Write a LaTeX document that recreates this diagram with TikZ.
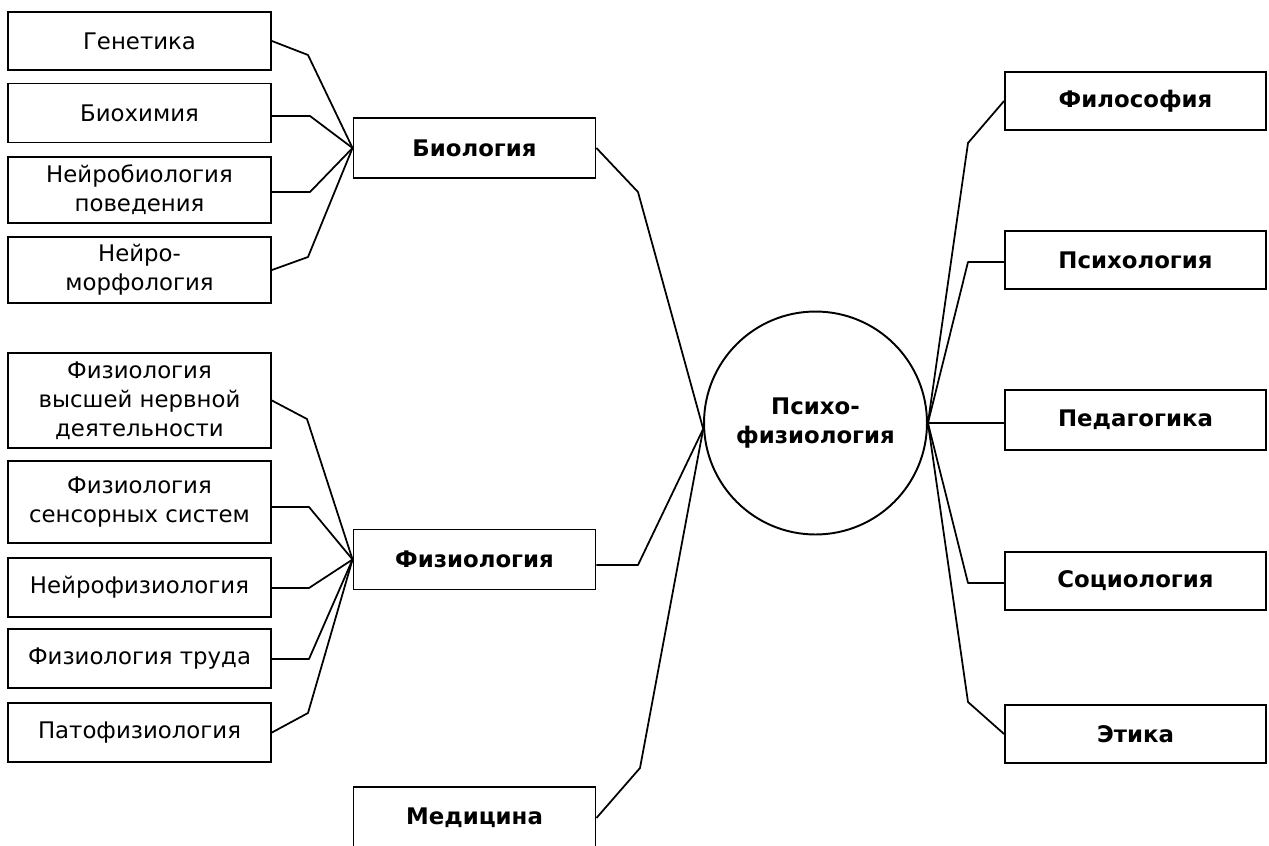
\documentclass[tikz,border=0pt]{standalone}
\usepackage{fontspec}
\setmainfont{DejaVu Sans}
\begin{document}
\begin{tikzpicture}[x=0.02cm,y=-0.02cm,
  box/.style={draw,line width=1.1pt,rectangle,inner sep=0pt,align=center,
    font=\fontsize{13}{16.5}\selectfont},
  lbox/.style={box,minimum width=5.26cm},
  mbox/.style={box,minimum width=4.84cm,font=\fontsize{13}{16.5}\selectfont\bfseries},
  rbox/.style={box,minimum width=5.22cm,font=\fontsize{13}{16.5}\selectfont\bfseries},
  hub/.style={draw,line width=1.1pt,circle,minimum size=4.46cm,inner sep=0pt,align=center,
    font=\fontsize{13}{16.5}\selectfont\bfseries},
  link/.style={draw,line width=1pt,line join=round}]
\useasboundingbox (0,0) rectangle (1269,846);

% left column, upper group
\node[lbox,minimum height=1.16cm] (gen) at (139.5,41) {Генетика};
\node[lbox,minimum height=1.18cm] (bio) at (139.5,113) {Биохимия};
\node[lbox,minimum height=1.32cm] (nbp) at (139.5,190) {Нейробиология\\поведения};
\node[lbox,minimum height=1.32cm] (nm) at (139.5,270) {Нейро-\\морфология};

% left column, lower group
\node[lbox,minimum height=1.90cm] (fvnd) at (139.5,400.5) {Физиология\\высшей нервной\\деятельности};
\node[lbox,minimum height=1.64cm] (fss) at (139.5,502) {Физиология\\сенсорных систем};
\node[lbox,minimum height=1.18cm] (nf) at (139.5,587.5) {Нейрофизиология};
\node[lbox,minimum height=1.18cm] (ft) at (139.5,658.5) {Физиология труда};
\node[lbox,minimum height=1.18cm] (pf) at (139.5,732.5) {Патофизиология};

% middle column
\node[mbox,minimum height=1.20cm] (biol) at (474.5,148) {Биология};
\node[mbox,minimum height=1.20cm] (phys) at (474.5,559.5) {Физиология};
\node[mbox,minimum height=1.24cm] (med) at (474.5,818) {Медицина};

% centre
\node[hub] (c) at (815.5,423) {Психо-\\физиология};

% right column
\node[rbox,minimum height=1.16cm] (phil) at (1135.5,101) {Философия};
\node[rbox,minimum height=1.16cm] (psy) at (1135.5,260) {Психология};
\node[rbox,minimum height=1.20cm] (ped) at (1135.5,420) {Педагогика};
\node[rbox,minimum height=1.16cm] (soc) at (1135.5,581) {Социология};
\node[rbox,minimum height=1.16cm] (eth) at (1135.5,734) {Этика};

% bend points
\coordinate (bgen) at (308,55);
\coordinate (bbio) at (310,116);
\coordinate (bnbp) at (310,192);
\coordinate (bnm) at (308,257);
\coordinate (bfvnd) at (307,419);
\coordinate (bfss) at (309,507);
\coordinate (bnf) at (309,588);
\coordinate (bft) at (309,659);
\coordinate (bpf) at (308,713);
\coordinate (bbiol) at (638,192);
\coordinate (bphys) at (638,565);
\coordinate (bmed) at (640,768);
\coordinate (bphil) at (968,143);
\coordinate (bpsy) at (968,262);
\coordinate (bsoc) at (968,583);
\coordinate (beth) at (968,702);

% connectors to Биология
\draw[link] (gen.east) -- (bgen) -- (biol.west);
\draw[link] (bio.east |- bbio) -- (bbio) -- (biol.west);
\draw[link] (nbp.east |- bnbp) -- (bnbp) -- (biol.west);
\draw[link] (nm.east) -- (bnm) -- (biol.west);

% connectors to Физиология
\draw[link] (fvnd.east) -- (bfvnd) -- (phys.west);
\draw[link] (fss.east |- bfss) -- (bfss) -- (phys.west);
\draw[link] (nf.east |- bnf) -- (bnf) -- (phys.west);
\draw[link] (ft.east |- bft) -- (bft) -- (phys.west);
\draw[link] (pf.east) -- (bpf) -- (phys.west);

% connectors to the centre
\draw[link] (biol.east) -- (bbiol) -- (c.183);
\draw[link] (phys.east |- bphys) -- (bphys) -- (c.183);
\draw[link] (med.east) -- (bmed) -- (c.183);

% right connectors
\draw[link] (c.east) -- (bphil) -- (phil.west);
\draw[link] (c.east) -- (bpsy) -- (psy.west |- bpsy);
\draw[link] (c.east) -- (ped.west |- c.east);
\draw[link] (c.east) -- (bsoc) -- (soc.west |- bsoc);
\draw[link] (c.east) -- (beth) -- (eth.west);
\end{tikzpicture}
\end{document}
